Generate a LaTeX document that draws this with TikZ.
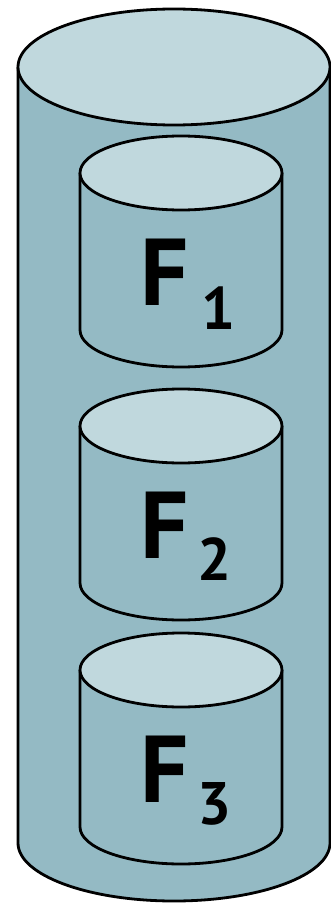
\documentclass[tikz,border=0pt]{standalone}
\usepackage{fontspec}
\setmainfont{PT Sans}
\definecolor{canlid}{RGB}{192,216,221}
\definecolor{canside}{RGB}{148,186,196}
\tikzset{
  can/.style={draw=black,line width=2.8pt,line join=round},
  labF/.style={inner sep=0pt,font=\fontsize{95}{95}\selectfont\bfseries},
  labS/.style={inner sep=0pt,anchor=base west,font=\fontsize{60}{60}\selectfont\bfseries}
}
% one upright cylinder: centre x, y of lid, y of floor, radii
\newcommand{\drawcan}[5]{%
  \fill[canside] (#1-#4,#2) -- (#1-#4,#3) arc (180:360:#4 and #5) -- (#1+#4,#2) -- cycle;
  \draw[can] (#1-#4,#2) -- (#1-#4,#3) arc (180:360:#4 and #5) -- (#1+#4,#2);
  \filldraw[can,fill=canlid] (#1,#2) ellipse (#4 and #5);
}
\begin{document}
\begin{tikzpicture}[x=1pt,y=1pt]
    \useasboundingbox (0,0) rectangle (331,-904);
    \clip (0,0) rectangle (331,-904);

    % outer store
    \drawcan{174}{-67}{-843}{156}{58}

    % the three files
    \drawcan{181}{-173}{-330}{101}{37}
    \drawcan{181}{-426}{-583}{101}{37}
    \drawcan{181}{-670}{-827}{101}{37}

    \node[labF] (f1) at (165,-272) {F};
    \node[labS] (s1) at ([xshift=12pt,yshift=-24pt]f1.base east) {1};
    \node[labF] (f2) at (165,-525) {F};
    \node[labS] (s2) at ([xshift=8pt,yshift=-22pt]f2.base east) {2};
    \node[labF] (f3) at (165,-769) {F};
    \node[labS] (s3) at ([xshift=8pt,yshift=-22pt]f3.base east) {3};
\end{tikzpicture}
\end{document}
